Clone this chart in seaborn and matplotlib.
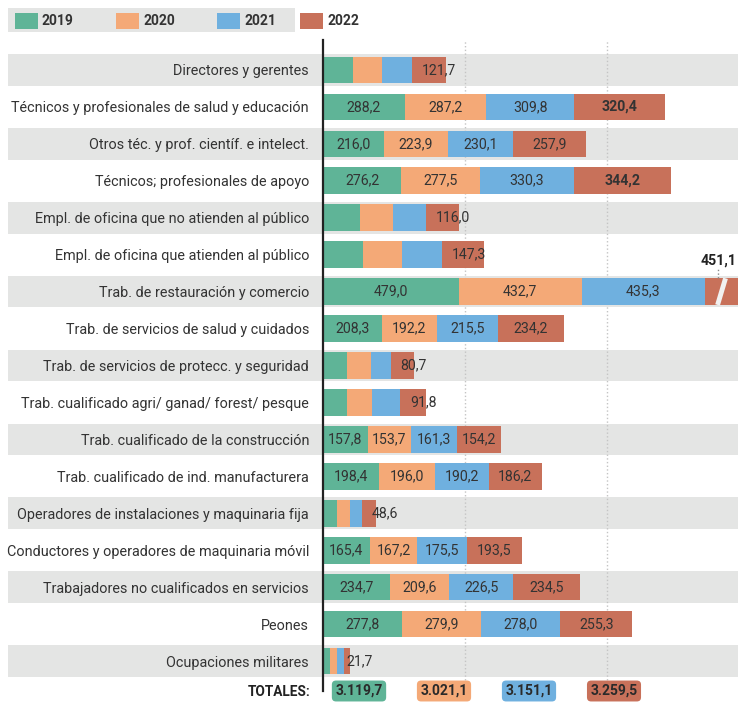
import matplotlib
matplotlib.use("Agg")
import matplotlib.pyplot as plt
from matplotlib.patches import Rectangle
import seaborn as sns
import pandas as pd

# data (thousands of workers)
categories = [
    "Directores y gerentes",
    "Técnicos y profesionales de salud y educación",
    "Otros téc. y prof. científ. e intelect.",
    "Técnicos; profesionales de apoyo",
    "Empl. de oficina que no atienden al público",
    "Empl. de oficina que atienden al público",
    "Trab. de restauración y comercio",
    "Trab. de servicios de salud y cuidados",
    "Trab. de servicios de protecc. y seguridad",
    "Trab. cualificado agri/ ganad/ forest/ pesque",
    "Trab. cualificado de la construcción",
    "Trab. cualificado de ind. manufacturera",
    "Operadores de instalaciones y maquinaria fija",
    "Conductores y operadores de maquinaria móvil",
    "Trabajadores no cualificados en servicios",
    "Peones",
    "Ocupaciones militares",
]
years = ["2019", "2020", "2021", "2022"]
v2019 = [105.5, 288.2, 216.0, 276.2, 130.0, 141.0, 479.0, 208.3, 84.5, 84.0, 157.8, 198.4, 48.0, 165.4, 234.7, 277.8, 25.0]
v2020 = [101.4, 287.2, 223.9, 277.5, 118.0, 137.0, 432.7, 192.2, 83.0, 90.0, 153.7, 196.0, 47.0, 167.2, 209.6, 279.9, 24.8]
v2021 = [105.6, 309.8, 230.1, 330.3, 114.0, 141.0, 435.3, 215.5, 72.0, 98.0, 161.3, 190.2, 44.0, 175.5, 226.5, 278.0, 24.0]
v2022 = [121.7, 320.4, 257.9, 344.2, 116.0, 147.3, 451.1, 234.2, 80.7, 91.8, 154.2, 186.2, 48.6, 193.5, 234.5, 255.3, 21.7]
totals = [3119.7, 3021.1, 3151.1, 3259.5]

# rows where every year is labelled (others only show 2022)
full_rows = [1, 2, 3, 6, 7, 10, 11, 13, 14, 15]
bold_labels = [(1, 3), (3, 3)]
broken_row = 6

colors = ["#5fb497", "#f4a977", "#6fb0df", "#c8715a"]
band_color = "#e4e5e4"
text_color = "#333333"

sns.set_style("white")
plt.rcParams["font.family"] = ["Roboto", "DejaVu Sans"]

W, H = 738, 702
fig = plt.figure(figsize=(W / 100, H / 100), dpi=100)

x0_px, y_top_px, y_bot_px = 323, 40.4, 690.6
xmax = 1463
ax = fig.add_axes([x0_px / W, 1 - y_bot_px / H, (W - x0_px) / W, (y_bot_px - y_top_px) / H])
ax.set_facecolor("none")

df = pd.DataFrame({"cat": categories, "2019": v2019, "2020": v2020, "2021": v2021, "2022": v2022})
cum = df[years].cumsum(axis=1)

# stacked bars: draw cumulative totals from the top layer down
for i in range(3, -1, -1):
    sns.barplot(x=cum[years[i]], y=df["cat"], color=colors[i], orient="h",
                width=0.72, saturation=1, linewidth=0, ax=ax, zorder=3)

ax.set_xlim(0, xmax)
ax.set_ylim(16.8, -0.8)
ax.set_xlabel("")
ax.set_ylabel("")
ax.set_xticks([])

# alternating row bands (extend under the labels)
left_ax = (8 - x0_px) / (W - x0_px)
for r in range(len(categories)):
    if r % 2 == 0:
        ax.add_patch(Rectangle((left_ax, r - 0.43), 1 - left_ax, 0.86,
                               transform=ax.get_yaxis_transform(),
                               color=band_color, clip_on=False, zorder=0, lw=0))

for gx in [500, 1000]:
    ax.axvline(gx, color="#c4c4c4", ls=":", lw=1, zorder=1)

for s in ["top", "right", "bottom"]:
    ax.spines[s].set_visible(False)
ax.spines["left"].set_color("#222222")
ax.spines["left"].set_linewidth(1.6)
ax.spines["left"].set_zorder(5)
ax.tick_params(axis="y", length=0, pad=10, labelsize=10.4, labelcolor=text_color)

def fmt(v):
    return f"{v:,.1f}".replace(",", "X").replace(".", ",").replace("X", ".")

fs = 10.2
# value labels
for r in range(len(categories)):
    vals = df.loc[r, years].tolist()
    starts = [0] + cum.loc[r, years].tolist()[:-1]
    if r == broken_row:
        for i in range(3):
            ax.text(starts[i] + vals[i] / 2, r, fmt(vals[i]), ha="center", va="center",
                    fontsize=fs, color=text_color, zorder=6)
        continue
    if r in full_rows:
        for i in range(4):
            ax.text(starts[i] + vals[i] / 2, r, fmt(vals[i]), ha="center", va="center",
                    fontsize=fs, color=text_color, zorder=6,
                    fontweight="bold" if (r, i) in bold_labels else "normal")
    else:
        off = 2 if vals[3] < 30 else 7
        ax.annotate(fmt(vals[3]), (starts[3], r), xytext=(off, 0), textcoords="offset points",
                    ha="left", va="center", fontsize=fs, color=text_color, zorder=6)

# broken bar marker for the long 2022 segment
bx = xmax - 62
ax.plot([bx - 10, bx + 18], [broken_row + 0.36, broken_row - 0.36], color="#f1f1f1",
        lw=3.5, zorder=6, solid_capstyle="butt")
lx = xmax - 70
ax.plot([lx, lx], [broken_row - 0.37, broken_row - 0.62], color="#888888",
        ls=":", lw=1, zorder=6, clip_on=False)
ax.text(lx, broken_row - 0.65, fmt(v2022[broken_row]), ha="center", va="bottom",
        fontsize=fs, fontweight="bold", color="#222222", zorder=6, clip_on=False)

# legend band
fig.patches.append(Rectangle((8 / W, 1 - 32 / H), 287 / W, 24 / H, transform=fig.transFigure,
                             color=band_color, lw=0, zorder=0))
leg_x = [15, 116, 217, 300]
for i, yr in enumerate(years):
    fig.patches.append(Rectangle((leg_x[i] / W, 1 - 29 / H), 23 / W, 16 / H,
                                 transform=fig.transFigure, color=colors[i], lw=0))
    fig.text((leg_x[i] + 27) / W, 1 - 21 / H, yr, ha="left", va="center",
             fontsize=10, fontweight="bold", color="#333333")

# totals
fig.text(311 / W, 1 - 692 / H, "TOTALES:", ha="right", va="center", fontsize=9.8,
         fontweight="bold", color="#222222")
tot_x = [359, 444, 529, 614]
for i, t in enumerate(totals):
    fig.text(tot_x[i] / W, 1 - 691 / H, fmt(t), ha="center", va="center", fontsize=10,
             fontweight="bold", color="#2a2a2a",
             bbox=dict(boxstyle="round,pad=0.25,rounding_size=0.3", fc=colors[i], ec="none"))

fig.savefig("out.png", dpi=100)
